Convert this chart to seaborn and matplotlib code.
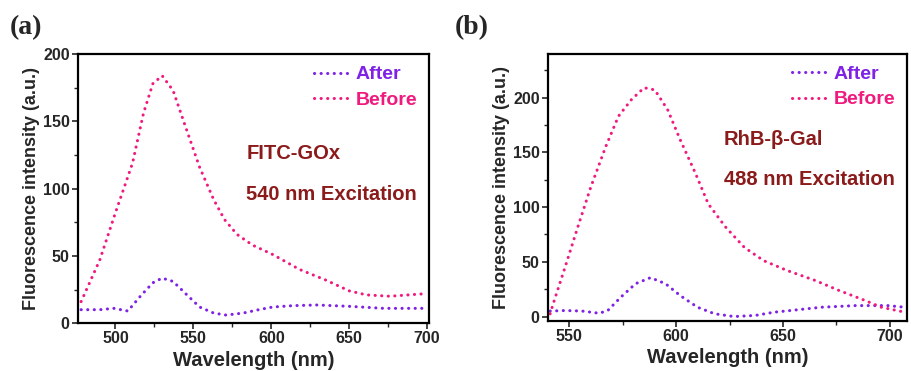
import numpy as np
import pandas as pd
import matplotlib
matplotlib.use("Agg")
import matplotlib.pyplot as plt
from matplotlib.ticker import MultipleLocator
import seaborn as sns

# Panel (a): FITC-GOx
WL_A_BEFORE = [478, 490, 500, 511, 518, 524, 530, 537, 545, 554, 563, 570, 578,
               588, 601, 618, 635, 650, 661, 676, 700]
INT_A_BEFORE = [16, 47, 82, 119, 156, 178, 184, 173, 146, 116, 92, 77, 66,
                58, 51, 40, 32, 24, 21, 20, 22]
WL_A_AFTER = [478, 490, 499, 508, 516, 524, 530, 537, 545, 554, 563, 571, 582,
              592, 601, 614, 629, 650, 672, 700]
INT_A_AFTER = [10, 10, 11, 9, 20, 30, 33.5, 31, 22, 12, 7.5, 6, 7.5,
               10, 12, 13, 13.5, 12.5, 11, 11]

# Panel (b): RhB-beta-Gal
WL_B_BEFORE = [541, 543, 548, 554, 560, 567, 573, 579, 585, 590, 596, 602, 609,
               615, 623, 632, 641, 652, 665, 676, 688, 696, 707]
INT_B_BEFORE = [2.5, 15, 45, 82, 118, 155, 183, 198, 209, 207, 189, 161, 131,
                103, 82, 63, 51, 42, 33, 24, 15, 8.5, 4]
WL_B_AFTER = [541, 548, 556, 564, 568, 574, 581, 588, 595, 602, 610, 618, 627,
              637, 646, 656, 668, 684, 699, 707]
INT_B_AFTER = [5, 5.5, 5, 3, 5.5, 17.5, 30, 35.5, 30, 19, 8.5, 2.5, 0,
               1, 4, 6, 8.5, 10, 10, 8.5]

COLORS = {"After": "#7F22E6", "Before": "#F01A7E"}
TEXT_RED = "#8B1A1A"


def make_df(wl_after, int_after, wl_before, int_before):
    a = pd.DataFrame({"wl": wl_after, "val": int_after, "state": "After"})
    b = pd.DataFrame({"wl": wl_before, "val": int_before, "state": "Before"})
    return pd.concat([a, b], ignore_index=True)


def draw_panel(ax, df, xlim, ylim, xmajor, label1, label2, txt_pos):
    for state in ["After", "Before"]:
        sub = df[df["state"] == state]
        sns.lineplot(data=sub, x="wl", y="val", ax=ax, color=COLORS[state],
                     label=state, linewidth=2.2, linestyle=(0, (0.05, 2.1)),
                     sort=False)
    for line in ax.get_lines():
        line.set_dash_capstyle("round")
    ax.set_xlim(*xlim)
    ax.set_ylim(*ylim)
    ax.xaxis.set_major_locator(MultipleLocator(xmajor))
    ax.xaxis.set_minor_locator(MultipleLocator(xmajor / 2))
    ax.yaxis.set_major_locator(MultipleLocator(50))
    ax.yaxis.set_minor_locator(MultipleLocator(25))
    ax.tick_params(which="major", direction="out", length=4, width=1.2,
                   labelsize=11.5, pad=2)
    ax.tick_params(which="minor", direction="out", length=3, width=1.0)
    for t in ax.get_xticklabels() + ax.get_yticklabels():
        t.set_fontweight("bold")
    for sp in ax.spines.values():
        sp.set_visible(True)
        sp.set_linewidth(1.6)
        sp.set_color("black")
    ax.set_xlabel("Wavelength (nm)", fontsize=14.5, fontweight="bold", labelpad=3)
    ax.set_ylabel("Fluorescence intensity (a.u.)", fontsize=13,
                  fontweight="bold", labelpad=2)
    leg = ax.legend(loc="upper right", frameon=False, handlelength=1.7,
                    handletextpad=0.45, labelspacing=0.4, borderaxespad=0.2,
                    prop={"weight": "bold", "size": 14}, labelcolor="linecolor")
    for h in leg.get_lines():
        h.set_dash_capstyle("round")
    ax.text(txt_pos[0], txt_pos[1], label1, transform=ax.transAxes,
            color=TEXT_RED, fontsize=14.5, fontweight="bold", va="center")
    ax.text(txt_pos[0], txt_pos[1] - 0.152, label2, transform=ax.transAxes,
            color=TEXT_RED, fontsize=14.5, fontweight="bold", va="center")


def main():
    sns.set_style("ticks")
    plt.rcParams["font.family"] = ["Liberation Sans", "DejaVu Sans"]

    fig = plt.figure(figsize=(9.11, 3.71), dpi=100)
    ax_a = fig.add_axes([0.0856, 0.129, 0.385, 0.725])
    ax_b = fig.add_axes([0.6015, 0.135, 0.394, 0.72])

    df_a = make_df(WL_A_AFTER, INT_A_AFTER, WL_A_BEFORE, INT_A_BEFORE)
    df_b = make_df(WL_B_AFTER, INT_B_AFTER, WL_B_BEFORE, INT_B_BEFORE)

    draw_panel(ax_a, df_a, (476, 701), (0, 200), 50,
               "FITC-GOx", "540 nm Excitation", (0.48, 0.632))
    draw_panel(ax_b, df_b, (540, 708), (-4, 240), 50,
               "RhB-\u03b2-Gal", "488 nm Excitation", (0.49, 0.68))

    fig.text(10 / 911, 1 - 28 / 371, "(a)", family="Liberation Serif",
             fontweight="bold", fontsize=20, va="center")
    fig.text(455 / 911, 1 - 28 / 371, "(b)", family="Liberation Serif",
             fontweight="bold", fontsize=20, va="center")

    fig.savefig("out.png", dpi=100)
    plt.close(fig)


if __name__ == "__main__":
    main()
